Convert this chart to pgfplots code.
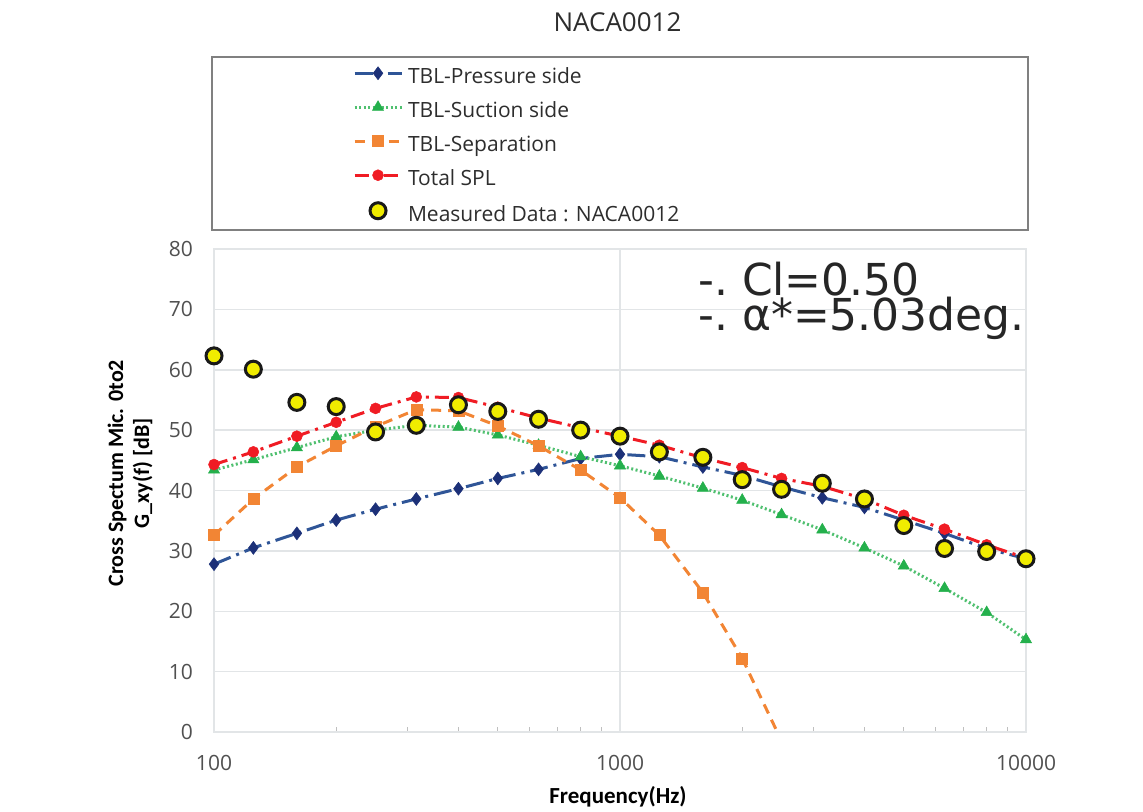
\documentclass[border=0pt]{standalone}
\usepackage{fontspec}
\setmainfont{Open Sans}
\newfontfamily\calib{Carlito}
\newfontfamily\dejavu{DejaVu Sans}
\usepackage{pgfplots}
\usepackage{pgfplotstable}
\pgfplotsset{compat=1.18}

\definecolor{presblue}{RGB}{28,48,120}
\definecolor{presline}{RGB}{47,85,151}
\definecolor{sucgreen}{RGB}{36,176,76}
\definecolor{seporange}{RGB}{242,133,52}
\definecolor{totred}{RGB}{240,28,36}
\definecolor{measyellow}{RGB}{240,236,0}
\definecolor{gridgray}{RGB}{226,229,231}
\definecolor{ticktext}{RGB}{80,80,80}
\definecolor{legtext}{RGB}{45,45,45}

% 1/3-octave band levels [dB]
\pgfplotstableread{
f     pres  suc   tot   meas
100   27.8  43.4  44.3  62.3
125   30.5  45.1  46.4  60.1
160   32.9  47.1  49.0  54.6
200   35.1  48.9  51.3  53.9
250   36.9  50.0  53.6  49.7
315   38.6  50.8  55.5  50.8
400   40.3  50.5  55.4  54.2
500   42.0  49.2  53.8  53.1
630   43.5  47.5  52.0  51.8
800   45.3  45.6  50.4  50.0
1000  46.0  44.1  49.0  49.0
1250  45.6  42.4  47.5  46.4
1600  43.9  40.4  45.4  45.5
2000  42.5  38.4  43.8  41.8
2500  40.6  36.0  42.0  40.2
3150  38.8  33.5  40.7  41.2
4000  37.2  30.5  38.6  38.6
5000  35.1  27.5  35.9  34.2
6300  32.9  23.8  33.6  30.4
8000  30.4  19.8  31.0  29.9
10000 28.7  15.3  28.8  28.7
}\spl

% separation noise (drops below the axis after 2 kHz)
\pgfplotstableread{
f     sep
100   32.6
125   38.6
160   43.9
200   47.4
250   50.6
315   53.4
400   53.2
500   50.7
630   47.4
800   43.4
1000  38.8
1250  32.6
1600  23.1
2000  12.2
}\sepa
\pgfplotstableread{
f     sep
2000  12.2
2500  -1.5
}\sepb

\begin{document}
\begin{tikzpicture}
\begin{axis}[
  at={(214bp,-732bp)}, anchor=south west,
  width=812bp, height=483bp, scale only axis,
  xmode=log, log basis x=10,
  xmin=100, xmax=10000, ymin=0, ymax=80,
  xtick={100,1000,10000}, xticklabels={100,1000,10000},
  minor xtick={200,300,400,500,600,700,800,900,2000,3000,4000,5000,6000,7000,8000,9000},
  ytick={0,10,...,80}, yticklabels={0,10,20,30,40,50,60,70,80},
  tick pos=left, tick align=inside,
  major tick length=0pt, minor tick length=5bp,
  minor tick style={black!25, line width=1bp},
  xmajorgrids, ymajorgrids,
  grid style={gridgray, line width=1.5bp},
  axis line style={gridgray, line width=1.5bp},
  xticklabel style={font=\fontsize{21bp}{25bp}\selectfont, text=ticktext, inner sep=0pt, anchor=north, yshift=-23bp},
  yticklabel style={font=\fontsize{21bp}{25bp}\selectfont, text=ticktext, inner sep=0pt, anchor=east, xshift=-21bp},
  xlabel={Frequency(Hz)},
  xlabel style={at={(axis description cs:0.4975,-0.1346)}, anchor=center,
    font=\calib\bfseries\fontsize{23bp}{27bp}\selectfont, inner sep=0pt},
  ylabel={Cross Spectum Mic. 0to2\\G\_xy(f) [dB]},
  ylabel style={at={(axis description cs:-0.1034,0.536)}, anchor=center, align=center,
    font=\calib\bfseries\fontsize{22bp}{26bp}\selectfont, inner sep=0pt},
  clip mode=individual,
  legend cell align=left,
  legend style={at={(axis description cs:0.1712,1.3774)}, anchor=north west,
    draw=none, fill=none, inner sep=0pt, outer sep=0pt,
    font=\fontsize{21bp}{25bp}\selectfont, text=legtext,
    row sep=7bp,
    nodes={inner sep=0pt, text height=17bp, text depth=10bp},
    /tikz/every odd column/.append style={column sep=5bp}},
  legend image code/.code={\draw[mark repeat=2,mark phase=2,#1] plot coordinates {(0bp,7bp) (23.5bp,7bp) (47bp,7bp)};},
]
\addplot[presline, line width=3bp, dash pattern=on 18bp off 6bp on 3bp off 6bp,
  mark=diamond*, mark size=6.5bp, mark options={solid, draw=presblue, fill=presblue, line width=0.5bp}]
  table[x=f, y=pres] {\spl};
\addlegendentry{TBL-Pressure side}
\addplot[sucgreen!80!white, line width=3bp, dash pattern=on 2bp off 2.5bp,
  mark=triangle*, mark size=6.5bp, mark options={solid, draw=sucgreen, fill=sucgreen, line width=0.5bp}]
  table[x=f, y=suc] {\spl};
\addlegendentry{TBL-Suction side}
\addplot[seporange, line width=3bp, dash pattern=on 10bp off 7bp,
  mark=square*, mark size=5.5bp, mark options={solid, draw=seporange, fill=seporange, line width=0.5bp}]
  table[x=f, y=sep] {\sepa};
\addlegendentry{TBL-Separation}
\addplot[seporange, line width=3bp, dash pattern=on 10bp off 7bp, forget plot]
  table[x=f, y=sep] {\sepb};
\addplot[totred, line width=3bp, dash pattern=on 14bp off 6bp on 3bp off 6bp,
  mark=*, mark size=5.5bp, mark options={solid, draw=totred, fill=totred, line width=0.5bp}]
  table[x=f, y=tot] {\spl};
\addlegendentry{Total SPL}
\addplot[only marks, mark=*, mark size=8bp,
  mark options={draw=black!90, fill=measyellow, line width=3bp}]
  table[x=f, y=meas] {\spl};
\addlegendentry{Measured Data : NACA0012}
\end{axis}

% legend frame
\draw[black!50, line width=1.5bp] (212bp,-57bp) rectangle (1028bp,-230bp);

% chart title
\node[font=\fontsize{26bp}{30bp}\selectfont, text=legtext, inner sep=0pt] at (617.5bp,-22bp) {NACA0012};

% operating condition
\node[anchor=north west, inner sep=0pt, align=left, text=black!85,
  font=\dejavu\fontsize{44bp}{34bp}\selectfont] at (698bp,-261.6bp)
  {-.\ Cl=0.50\\-.\ α*=5.03deg.};

\pgfresetboundingbox
\path[use as bounding box] (0bp,0bp) rectangle (1143bp,-812bp);
\end{tikzpicture}
\end{document}
